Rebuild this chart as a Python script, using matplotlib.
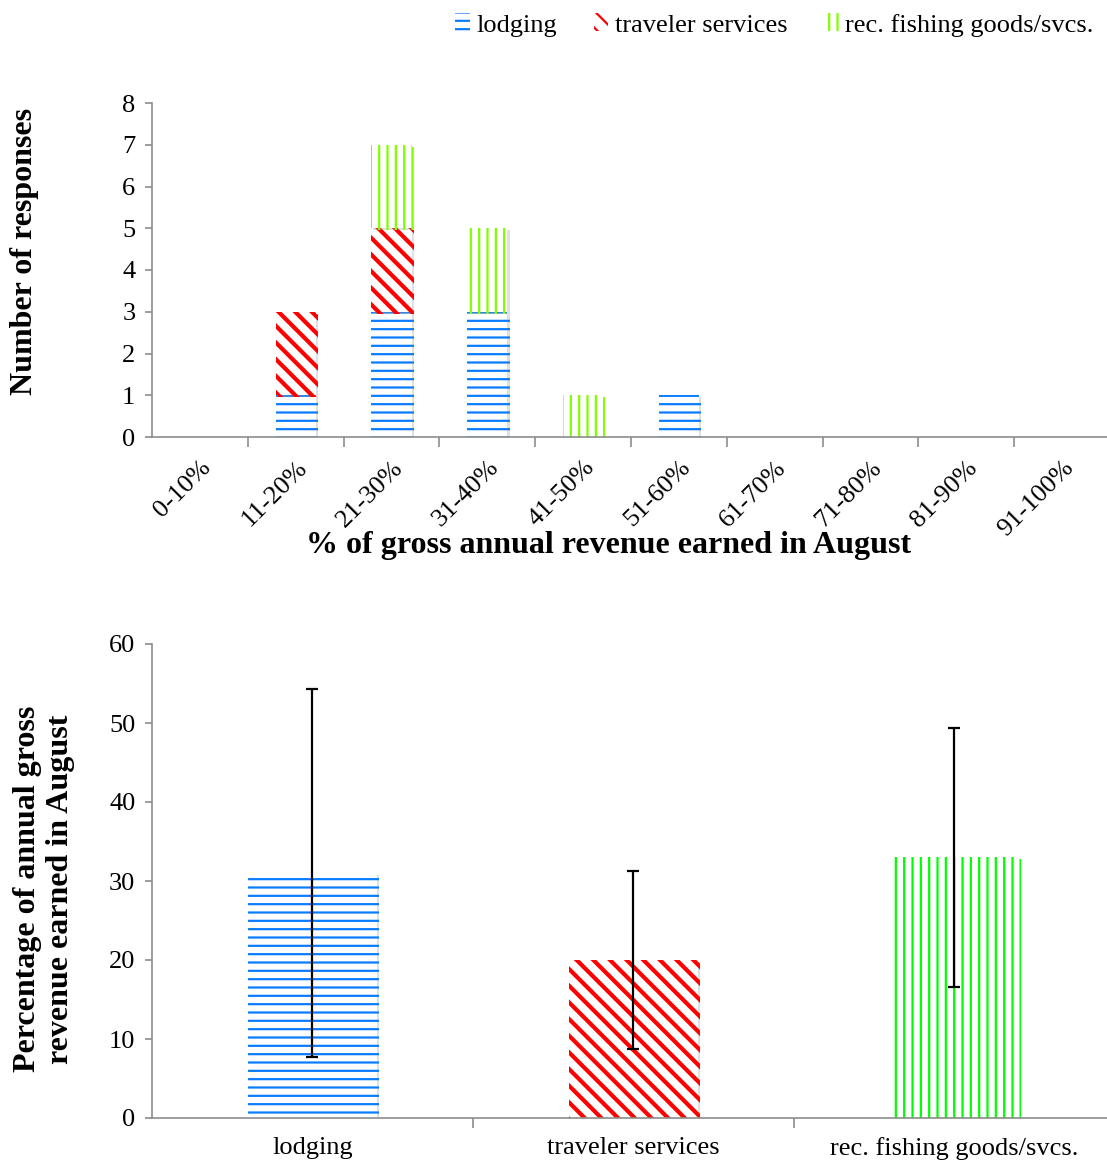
import matplotlib
matplotlib.use("Agg")
import matplotlib.pyplot as plt
import matplotlib.patheffects as pe
from matplotlib.patches import Patch
import numpy as np

plt.rcParams['font.family'] = ['Liberation Serif', 'DejaVu Serif']
plt.rcParams['hatch.linewidth'] = 1.6

# top chart data
bins = ['0-10%', '11-20%', '21-30%', '31-40%', '41-50%',
        '51-60%', '61-70%', '71-80%', '81-90%', '91-100%']
lodging = [0, 1, 3, 3, 0, 1, 0, 0, 0, 0]
traveler = [0, 2, 2, 0, 0, 0, 0, 0, 0, 0]
fishing = [0, 0, 2, 2, 1, 0, 0, 0, 0, 0]

# bottom chart data
sectors = ['lodging', 'traveler services', 'rec. fishing goods/svcs.']
pct_mean = [31.0, 20.0, 33.0]
pct_err = [23.3, 11.3, 16.4]

BLUE = '#0a7cff'
RED = '#ff0000'
LIME = '#80ff00'
GREEN = '#00ff00'
GRAY = '#8c8c8c'
W, H = 1107, 1165
FS = 19      # tick / legend text
LFS = 23     # bold axis titles

shadow = [pe.SimplePatchShadow(offset=(1.5, -1.5), shadow_rgbFace='#999999', alpha=0.3),
          pe.Normal()]

fig = plt.figure(figsize=(W / 100, H / 100), dpi=100)


def style(ax):
    for s in ('top', 'right'):
        ax.spines[s].set_visible(False)
    for s in ('left', 'bottom'):
        ax.spines[s].set_color(GRAY)
        ax.spines[s].set_linewidth(1.2)
    ax.tick_params(axis='y', colors=GRAY, labelcolor='black', labelsize=FS,
                   length=5, width=1.2, direction='out', pad=7)


def thick_hatch(p):
    if hasattr(p, 'set_hatch_linewidth'):
        p.set_hatch_linewidth(3.0)


# ---- top: stacked histogram of responses
ax1 = fig.add_axes([152 / W, 1 - 437 / H, 958 / W, 334 / H])
x = np.arange(len(bins))
kw = dict(width=0.42, linewidth=0, color='white')
b1 = ax1.bar(x, lodging, edgecolor=BLUE, hatch='--', **kw)
b2 = ax1.bar(x, traveler, bottom=lodging, edgecolor=RED, hatch='\\\\', **kw)
b3 = ax1.bar(x, fishing, bottom=np.add(lodging, traveler), edgecolor=LIME, hatch='||', **kw)
for bars in (b1, b2, b3):
    for p in bars:
        if p.get_height() > 0:
            p.set_path_effects(shadow)
for p in b2:
    thick_hatch(p)

style(ax1)
ax1.set_xlim(-0.5, 9.5)
ax1.set_ylim(0, 8)
ax1.set_yticks(range(0, 9))
ax1.set_xticks(x)
ax1.set_xticklabels(bins, rotation=45, ha='right', va='top',
                    rotation_mode='anchor', fontsize=FS)
ax1.set_xticks(np.arange(0.5, 9.5, 1), minor=True)
ax1.tick_params(axis='x', which='major', length=0, pad=14)
ax1.tick_params(axis='x', which='minor', length=7, width=1.2, color=GRAY, direction='out')
fig.text(609 / W, 1 - 545 / H, '% of gross annual revenue earned in August',
         ha='center', va='center', fontsize=LFS, fontweight='bold')
fig.text(25 / W, 1 - 251 / H, 'Number of responses', rotation=90,
         ha='center', va='center', fontsize=LFS, fontweight='bold')

# legend
handles = [Patch(facecolor='white', edgecolor=BLUE, hatch='--', linewidth=0, label='lodging'),
           Patch(facecolor='white', edgecolor=RED, hatch='\\\\', linewidth=0, label='traveler services'),
           Patch(facecolor='white', edgecolor=LIME, hatch='||', linewidth=0,
                 label='rec. fishing goods/svcs.')]
fig.legend(handles=handles, loc='center left', bbox_to_anchor=(455 / W, 1 - 25 / H),
           ncol=3, frameon=False, fontsize=FS, handlelength=0.55, handleheight=0.65,
           handletextpad=0.25, columnspacing=1.4, borderaxespad=0, borderpad=0)

# ---- bottom: mean percentage with error bars
ax2 = fig.add_axes([152 / W, 1 - 1118 / H, 963 / W, 474 / H])
x2 = np.arange(len(sectors))
cols = [BLUE, RED, GREEN]
hatches = ['--', '\\\\', '||']
bars = ax2.bar(x2, pct_mean, width=0.4, color='white', edgecolor=cols, linewidth=0)
for p, h in zip(bars, hatches):
    p.set_hatch(h)
    p.set_path_effects(shadow)
thick_hatch(bars[1])
ax2.errorbar(x2, pct_mean, yerr=pct_err, fmt='none', ecolor='black',
             elinewidth=1.6, capsize=4.5, capthick=1.6)

style(ax2)
ax2.set_xlim(-0.5, 2.5)
ax2.set_ylim(0, 60)
ax2.set_yticks(range(0, 61, 10))
ax2.set_xticks(x2)
ax2.set_xticklabels(sectors, fontsize=FS)
ax2.set_xticks([0.5, 1.5, 2.5], minor=True)
ax2.tick_params(axis='x', which='major', length=0, pad=14)
ax2.tick_params(axis='x', which='minor', length=7, width=1.2, color=GRAY, direction='out')
fig.text(44 / W, 1 - 889 / H, 'Percentage of annual gross\nrevenue earned in August',
         rotation=90, ha='center', va='center', fontsize=LFS, fontweight='bold',
         linespacing=1.15, multialignment='center')

fig.savefig('out.png', dpi=100)
